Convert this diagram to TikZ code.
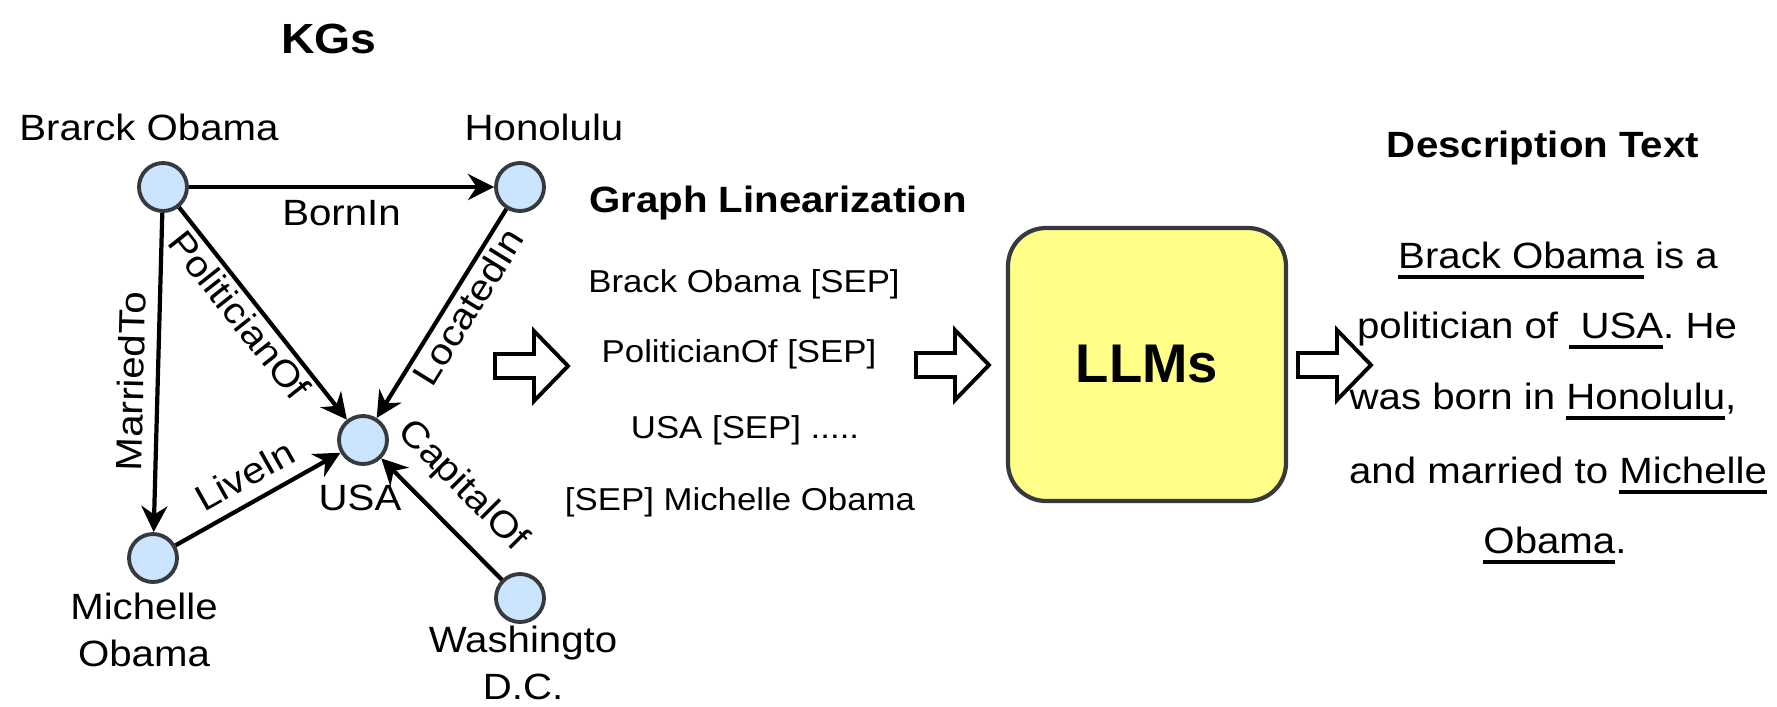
\documentclass[tikz,border=0pt]{standalone}
\usepackage{fontspec}
\setmainfont{Liberation Sans}[FakeStretch=1.1]
\newfontfamily\llmfont{Liberation Sans}
\frenchspacing
\newcommand{\undl}[1]{\setbox0\hbox{#1}\rlap{\rule[-3pt]{\wd0}{1.1pt}}\box0\relax}
\usetikzlibrary{arrows.meta}
\definecolor{kgblue}{HTML}{CCE5FF}
\definecolor{kgline}{HTML}{36393D}
\definecolor{llmyellow}{HTML}{FFFF88}
\tikzset{
  entity/.style={circle, draw=kgline, fill=kgblue, line width=1.1pt, minimum size=0.48cm, inner sep=0pt},
  rel/.style={->, line width=1.2pt},
  lbl/.style={font=\fontsize{10.4}{13.5}\selectfont},
  rellabel/.style={lbl, sloped},
  heading/.style={font=\bfseries\fontsize{10.4}{12}\selectfont, anchor=base},
  lin/.style={font=\fontsize{9}{11}\selectfont, anchor=base},
  desc/.style={lbl, anchor=base},
  llm/.style={draw=kgline, fill=llmyellow, line width=1.2pt, rounded corners=0.38cm,
    minimum width=2.78cm, minimum height=2.73cm, font=\llmfont\bfseries\fontsize{15.5}{18}\selectfont},
  blockarrow/.pic={
    \draw[line width=1.1pt, fill=white] (0,-0.12) -- (0.39,-0.12) -- (0.39,-0.35)
      -- (0.73,0) -- (0.39,0.35) -- (0.39,0.12) -- (0,0.12) -- cycle;}
}
\begin{document}
\begin{tikzpicture}[>={Stealth[length=0.26cm,width=0.26cm]}]
  \useasboundingbox (0,0) rectangle (17.77,-7.06);
  % knowledge graph
  \node[font=\bfseries\fontsize{12}{14}\selectfont, anchor=base] (kgs) at (3.29,-0.53) {KGs};
  \node[entity] (obama) at (1.63,-1.87) {};
  \node[entity] (honolulu) at (5.20,-1.87) {};
  \node[entity] (usa) at (3.63,-4.40) {};
  \node[entity] (michelle) at (1.53,-5.58) {};
  \node[entity] (washington) at (5.20,-5.98) {};
  \node[lbl, anchor=base] (obamatxt) at (1.49,-1.40) {Brarck Obama};
  \node[lbl, anchor=base] (honolulutxt) at (5.44,-1.40) {Honolulu};
  \node[lbl, anchor=base] (usatxt) at (3.60,-5.10) {USA};
  \node[lbl, align=center] (michelletxt) at (1.44,-6.30) {Michelle\\Obama};
  \node[lbl, align=center] (washingtontxt) at (5.23,-6.63) {Washingto\\D.C.};
  \draw[rel] (obama) -- node[rellabel, below] {BornIn} (honolulu);
  \draw[rel] (obama) -- node[rellabel, above, pos=0.53] {MarriedTo} (michelle);
  \draw[rel] (obama) -- node[rellabel, below, inner sep=1pt, pos=0.45] {PoliticianOf} (usa);
  \draw[rel] (honolulu) -- node[rellabel, below, inner sep=1pt, pos=0.42] {LocatedIn} (usa);
  \draw[rel] (michelle) -- node[rellabel, above, pos=0.5] {LiveIn} (usa);
  \draw[rel] (washington) -- node[rellabel, above=2pt, pos=0.55] {CapitalOf} (usa);
  % linearization
  \pic at (4.95,-3.66) {blockarrow};
  \node[heading] (linhead) at (7.78,-2.12) {Graph Linearization};
  \node[lin] (lin1) at (7.44,-2.92) {Brack Obama [SEP]};
  \node[lin] (lin2) at (7.39,-3.62) {PoliticianOf [SEP]};
  \node[lin] (lin3) at (7.45,-4.38) {USA [SEP] .....};
  \node[lin] (lin4) at (7.40,-5.10) {[SEP] Michelle Obama};
  \pic at (9.16,-3.65) {blockarrow};
  % model
  \node[llm] (llm) at (11.47,-3.645) {LLMs};
  \pic at (12.98,-3.65) {blockarrow};
  % description
  \node[heading] (deschead) at (15.43,-1.57) {Description Text};
  \node[desc] (d1) at (15.58,-2.68) {\undl{Brack Obama} is a};
  \node[desc] (d2) at (15.47,-3.38) {politician of \undl{\ USA}. He};
  \node[desc] (d3) at (15.43,-4.09) {was born in \undl{Honolulu},};
  \node[desc] (d4) at (15.58,-4.83) {and married to \undl{Michelle}};
  \node[desc] (d5) at (15.55,-5.53) {\undl{Obama}.};
\end{tikzpicture}
\end{document}
